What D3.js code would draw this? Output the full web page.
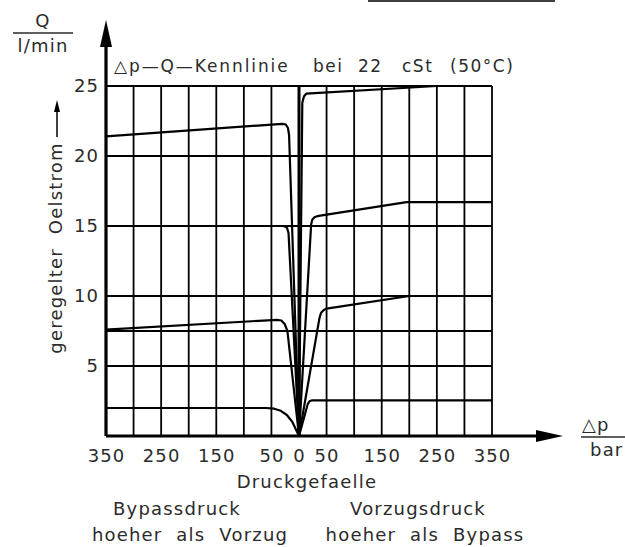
<!DOCTYPE html>
<html>
<head>
<meta charset="utf-8">
<script src="https://cdn.jsdelivr.net/npm/d3@7"></script>
<style>
  body { margin: 0; background: #fff; }
  text { font-family: "DejaVu Sans", sans-serif; fill: #2b2b2b; }
</style>
</head>
<body>
<svg id="chart" width="625" height="547"></svg>
<script>
//tick values (left side is drawn as negative, label shows the absolute value)
var xTicks = [-350, -250, -150, -50, 0, 50, 150, 250, 350];
var yTicks = [5, 10, 15, 20, 25];
var xGrid = [-350, -300, -250, -200, -150, -100, -50, 0, 50, 100, 150, 200, 250, 300, 350];
var yGrid = [5, 7.5, 10, 15, 20, 25];

//curves [dp, Q], left half: bypass side, right half: vorzug side
//a few points close together at each bend give the rounded corners
var leftA = [[-350, 21.4], [-30, 22.3], [-24, 22.25], [-20, 22.0], [-18, 21.5], [0, 0]];
var leftB = [[-350, 15], [-28, 15], [-22, 14.9], [-19, 14.5], [0, 0]];
var leftC = [[-350, 7.6], [-40, 8.3], [-32, 8.25], [-26, 8.0], [-21, 7.5], [0, 0]];
var leftD = [[-350, 2.0], [-60, 2.0], [-45, 1.95], [-33, 1.8], [-22, 1.5], [-12, 1.0], [0, 0]];
var rightA = [[0, 0], [6, 23.8], [9, 24.25], [13, 24.45], [250, 25], [350, 25]];
var rightB = [[0, 0], [22, 15.1], [24, 15.45], [28, 15.62], [33, 15.7], [195, 16.7], [350, 16.7]];
var rightC = [[0, 0], [37, 8.4], [40, 8.8], [45, 9.0], [50, 9.1], [200, 10], [350, 10]];
var rightD = [[0, 0], [16, 2.3], [19, 2.48], [24, 2.55], [350, 2.55]];
var curves = [leftA, leftB, leftC, leftD, rightA, rightB, rightC, rightD];

var svg = d3.select("#chart");

var x = d3.scaleLinear().domain([-350, 350]).range([106, 492]);
var y = d3.scaleLinear().domain([0, 25]).range([436, 86]);

//grid
svg.selectAll("line.vgrid")
	.data(xGrid)
  .enter().append("line")
	.attr("class", "vgrid")
	.attr("x1", function(d){ return x(d) })
	.attr("x2", function(d){ return x(d) })
	.attr("y1", y(0))
	.attr("y2", y(25))
	.attr("stroke", "#000")
	.attr("stroke-width", function(d){ return d == 0 ? 3 : 1.8 });

svg.selectAll("line.hgrid")
	.data(yGrid)
  .enter().append("line")
	.attr("class", "hgrid")
	.attr("x1", x(-350))
	.attr("x2", x(350))
	.attr("y1", function(d){ return y(d) })
	.attr("y2", function(d){ return y(d) })
	.attr("stroke", "#000")
	.attr("stroke-width", 1.8);

//curves
var line = d3.line()
	.x(function(d){ return x(d[0]) })
	.y(function(d){ return y(d[1]) });

svg.selectAll("path.curve")
	.data(curves)
  .enter().append("path")
	.attr("class", "curve")
	.attr("d", line)
	.attr("fill", "none")
	.attr("stroke", "#000")
	.attr("stroke-width", 2.2)
	.attr("stroke-linejoin", "round");

//axes with arrows
svg.append("line")
	.attr("x1", x(-350)).attr("y1", y(0))
	.attr("x2", x(-350)).attr("y2", 44)
	.attr("stroke", "#000").attr("stroke-width", 3.2);
svg.append("path")
	.attr("d", "M" + x(-350) + ",20 L" + (x(-350) - 6) + ",47 L" + (x(-350) + 6) + ",47 Z")
	.attr("fill", "#000");

svg.append("line")
	.attr("x1", x(-350)).attr("y1", y(0))
	.attr("x2", 540).attr("y2", y(0))
	.attr("stroke", "#000").attr("stroke-width", 3.2);
svg.append("path")
	.attr("d", "M563," + y(0) + " L536," + (y(0) - 6) + " L536," + (y(0) + 6) + " Z")
	.attr("fill", "#000");

//tick labels
var xAxis = svg.append("g")
	.attr("transform", "translate(0," + y(0) + ")")
	.call(d3.axisBottom(x).tickValues(xTicks).tickSize(0).tickPadding(13)
		.tickFormat(function(d){ return Math.abs(d) }));
var yAxis = svg.append("g")
	.attr("transform", "translate(" + x(-350) + ",0)")
	.call(d3.axisLeft(y).tickValues(yTicks).tickSize(0).tickPadding(7));

svg.selectAll(".domain").remove();
svg.selectAll(".tick text")
	.style("font-family", "'DejaVu Sans', sans-serif")
	.style("font-size", "18px")
	.style("letter-spacing", "1.1px")
	.attr("fill", "#2b2b2b");

//texts
function label(t, px, py, anchor, size, spacing){
	return svg.append("text")
		.attr("x", px).attr("y", py)
		.attr("text-anchor", anchor || "start")
		.style("font-size", (size || 18) + "px")
		.style("letter-spacing", (spacing == null ? 1.2 : spacing) + "px")
		.style("word-spacing", "7px")
		.text(t);
}

//title of the diagram
label("\u25B3p\u2014Q\u2014Kennlinie", 114, 72, "start", 17, 1.9);
label("bei", 313, 72, "start", 17, 1.5);
label("22", 358, 72, "start", 17, 1.5);
label("cSt", 402, 72, "start", 17, 1.5);
label("(50\u00B0C)", 450, 72, "start", 17, 1.5);

//Q / l/min
label("Q", 43, 27, "middle");
svg.append("line").attr("x1", 13).attr("x2", 73).attr("y1", 33).attr("y2", 33)
	.attr("stroke", "#2b2b2b").attr("stroke-width", 1.5);
label("l/min", 43, 52, "middle");

//dp / bar
label("\u25B3p", 582, 431, "start");
svg.append("line").attr("x1", 581).attr("x2", 625).attr("y1", 437).attr("y2", 437)
	.attr("stroke", "#2b2b2b").attr("stroke-width", 1.5);
label("bar", 590, 456, "start");

//y title
label("geregelter Oelstrom", 0, 0, "middle", 18, 1.2)
	.attr("transform", "translate(62,248) rotate(-90)");
svg.append("line").attr("x1", 57).attr("x2", 57).attr("y1", 137).attr("y2", 108)
	.attr("stroke", "#000").attr("stroke-width", 1.5);
svg.append("path").attr("d", "M57,100 L54,112 L60,112 Z").attr("fill", "#000");

//x titles
label("Druckgefaelle", 307, 488, "middle");
label("Bypassdruck", 177, 515, "middle");
label("hoeher als Vorzug", 190, 541, "middle");
label("Vorzugsdruck", 418, 515, "middle");
label("hoeher als Bypass", 425, 541, "middle");

//cut line at the top edge
svg.append("line").attr("x1", 368).attr("x2", 555).attr("y1", 1).attr("y2", 1)
	.attr("stroke", "#000").attr("stroke-width", 1.6);
</script>
</body>
</html>
